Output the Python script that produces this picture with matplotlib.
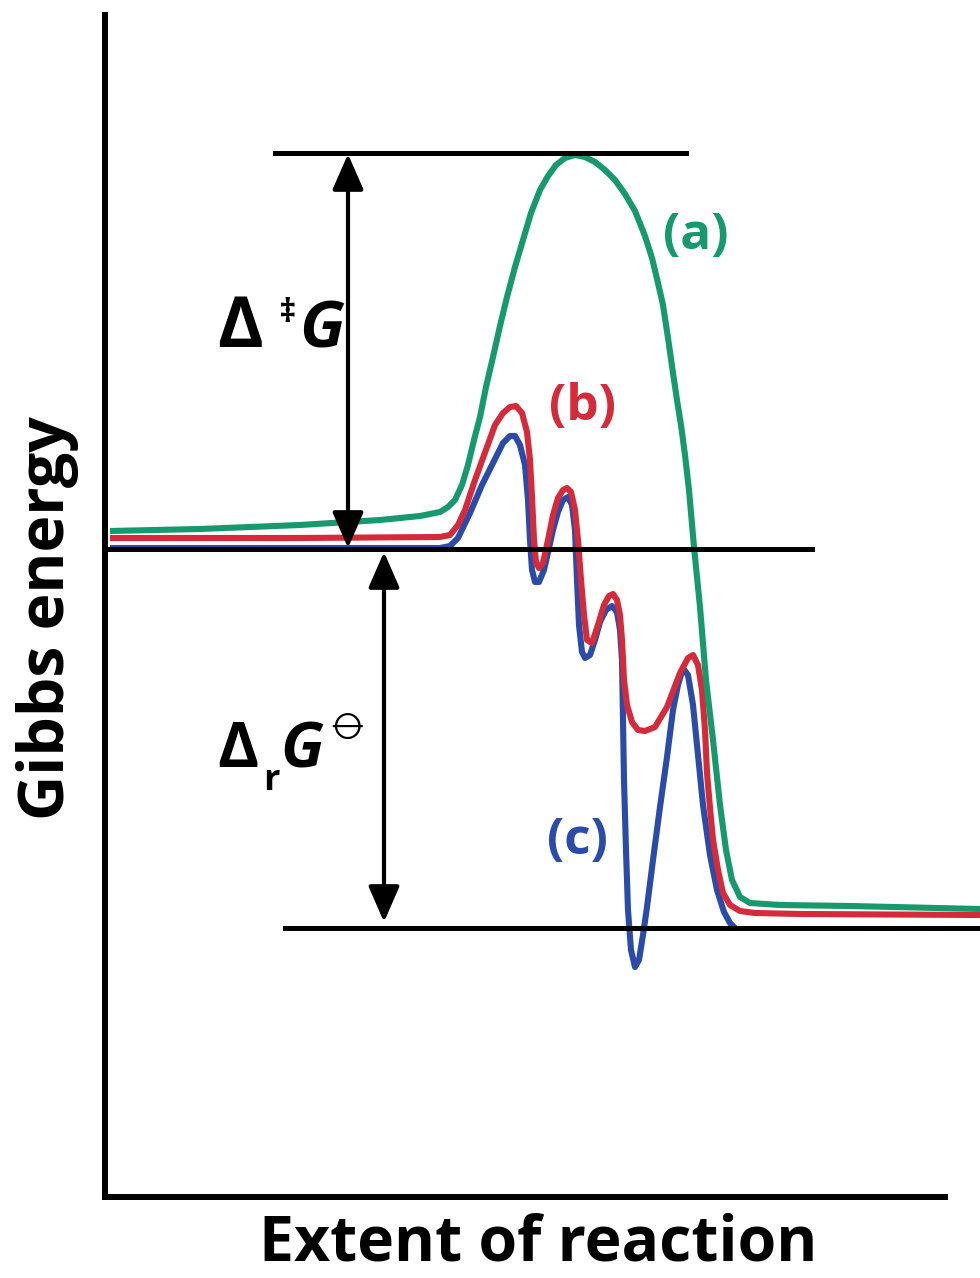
import sys
import matplotlib
matplotlib.use("Agg")
import matplotlib.pyplot as plt
from matplotlib import font_manager
from matplotlib.ft2font import FT2Font, LoadFlags
from matplotlib.patches import Ellipse
from matplotlib.lines import Line2D

W, H = 980, 1278
X0, Y0 = 105, 1197  # axis origin in pixels

green_px_x = [110, 200, 300, 380, 420, 440, 448, 455, 462, 468, 474, 480, 486, 493, 500, 507, 515, 523, 531,
              540, 548, 556, 565, 575, 585, 595, 605, 615, 625, 635, 645, 652, 658, 663, 668, 673, 677, 681,
              685, 689, 694, 700, 706, 713, 720, 726, 732, 740, 750, 780, 850, 980]
green_px_y = [531, 529, 525, 520, 516, 512, 507, 500, 485, 465, 440, 417, 387, 357, 326, 297, 267, 240, 213,
              190, 176, 165, 158, 155, 157, 162, 170, 180, 194, 211, 236, 258, 283, 305, 338, 373, 400, 425,
              455, 490, 547, 607, 680, 740, 805, 850, 880, 897, 903, 905, 906, 909]

red_px_x = [110, 300, 440, 450, 458, 465, 475, 487, 495, 503, 510, 516, 522, 527, 530, 532, 534, 536, 539, 543,
            548, 553, 558, 563, 567, 571, 575, 578, 581, 584, 587, 592, 598, 604, 609, 613, 617, 620, 622, 624,
            627, 632, 638, 645, 655, 667, 680, 688, 693, 698, 702, 705, 707, 710, 713, 718, 723, 730, 740, 755, 800, 980]
red_px_y = [538, 538, 537, 535, 525, 510, 480, 447, 425, 413, 407, 406, 413, 432, 460, 497, 540, 562, 568, 563,
            540, 515, 498, 490, 488, 492, 510, 540, 580, 615, 640, 643, 625, 605, 596, 594, 600, 615, 640, 680,
            705, 722, 730, 731, 727, 707, 673, 658, 655, 665, 690, 730, 773, 808, 840, 870, 893, 905, 911, 913, 914, 915]

blue_px_x = [110, 300, 440, 450, 458, 470, 482, 493, 503, 510, 515, 520, 525, 528, 530, 532, 535, 539, 544, 549,
             553, 558, 563, 568, 572, 575, 577, 579, 582, 585, 590, 595, 600, 606, 612, 617, 620, 622, 623, 624,
             626, 628, 631, 635, 639, 643, 647, 653, 660, 667, 673, 678, 683, 688, 693, 698, 703, 710, 717, 724,
             730, 735]
blue_px_y = [548, 548, 548, 546, 538, 513, 485, 463, 443, 436, 436, 445, 465, 500, 540, 570, 582, 582, 570, 548,
             530, 512, 500, 497, 505, 530, 580, 625, 652, 658, 655, 640, 622, 610, 606, 612, 630, 660, 720, 780,
             850, 910, 950, 967, 960, 935, 907, 860, 807, 757, 710, 685, 668, 675, 705, 755, 805, 855, 890, 912,
             923, 928]

# convert to chart units: extent (x) and Gibbs energy (y) relative to the axis origin
extent_a = [x - X0 for x in green_px_x]
energy_a = [Y0 - y for y in green_px_y]
extent_b = [x - X0 for x in red_px_x]
energy_b = [Y0 - y for y in red_px_y]
extent_c = [x - X0 for x in blue_px_x]
energy_c = [Y0 - y for y in blue_px_y]

# reference levels (energy)
level_ts = Y0 - 153
level_react = Y0 - 549
level_prod = Y0 - 928

GREEN = '#17996e'
RED = '#d52a3a'
BLUE = '#2b4ba8'

FONT = 'Open Sans'

fig = plt.figure(figsize=(W / 100, H / 100), dpi=100)
ax = fig.add_axes([X0 / W, (H - Y0) / H, (945 - X0) / W, (Y0 - 15) / H])
ax.set_xlim(0, 945 - X0)
ax.set_ylim(0, Y0 - 15)
for s in ['top', 'right']:
    ax.spines[s].set_visible(False)
for s in ['left', 'bottom']:
    ax.spines[s].set_linewidth(4.3)
    ax.spines[s].set_color('black')
    ax.spines[s].set_capstyle('projecting')
ax.set_xticks([])
ax.set_yticks([])

lw = 4.4
kw = dict(lw=lw, clip_on=False, solid_capstyle='butt', solid_joinstyle='round')
ax.plot(extent_c, energy_c, color=BLUE, zorder=2, **kw)
ax.plot(extent_b, energy_b, color=RED, zorder=3, **kw)
ax.plot(extent_a, energy_a, color=GREEN, zorder=4, **kw)

# horizontal reference lines
ax.plot([275 - X0, 686 - X0], [level_ts, level_ts], color='black', lw=3.6, clip_on=False, zorder=5)
ax.plot([0, 812 - X0], [level_react, level_react], color='black', lw=3.6, clip_on=False, zorder=5)
ax.plot([285 - X0, 980 - X0], [level_prod, level_prod], color='black', lw=3.6, clip_on=False, zorder=5)

# double-headed arrows
arrow_style = '<|-|>,head_length=1.1,head_width=0.48'
ax.annotate('', xy=(348 - X0, level_ts - 1), xytext=(348 - X0, level_react + 1),
            arrowprops=dict(arrowstyle=arrow_style, color='black', lw=3.0,
                            mutation_scale=20, shrinkA=0, shrinkB=0), zorder=6)
ax.annotate('', xy=(384 - X0, level_react - 3), xytext=(384 - X0, level_prod + 6),
            arrowprops=dict(arrowstyle=arrow_style, color='black', lw=3.0,
                            mutation_scale=20, shrinkA=0, shrinkB=0), zorder=6)

def ft(x, y, s, **kw):
    return fig.text(x / W, 1 - y / H, s, **kw)

# axis labels
ft(538, 1244, 'Extent of reaction', ha='center', va='center', fontsize=45,
   fontweight='bold', family=FONT)
ft(48, 618, 'Gibbs energy', ha='center', va='center', fontsize=45,
   fontweight='bold', family=FONT, rotation=90)

# curve labels
ft(696, 236, '(a)', ha='center', va='center', fontsize=37, fontweight='bold', color=GREEN, family=FONT)
ft(582, 407, '(b)', ha='center', va='center', fontsize=37, fontweight='bold', color=RED, family=FONT)
ft(577, 841, '(c)', ha='center', va='center', fontsize=37, fontweight='bold', color=BLUE, family=FONT)

# Δ‡G
ft(217, 347, 'Δ', ha='left', va='baseline', fontsize=50, fontweight='bold', family=[FONT, 'DejaVu Sans'])
ft(279, 322, '‡', ha='left', va='baseline', fontsize=24, fontweight='bold', family=[FONT, 'DejaVu Sans'])
ft(299, 347, 'G', ha='left', va='baseline', fontsize=47, fontweight='bold', style='italic', family=FONT)

# ΔrG⦵
ft(217, 767, 'Δ', ha='left', va='baseline', fontsize=45, fontweight='bold', family=[FONT, 'DejaVu Sans'])
ft(263, 790, 'r', ha='left', va='baseline', fontsize=26, fontweight='bold', family=FONT)
ft(280, 767, 'G', ha='left', va='baseline', fontsize=45, fontweight='bold', style='italic', family=FONT)

# standard-state symbol: use an installed font that really has the glyph, else draw it
PLIMSOLL = '\u29b5'
plim_entry = None
entries = sorted(font_manager.fontManager.ttflist,
                 key=lambda f: (0 if ('DejaVu' in f.name or 'STIX' in f.name or 'Noto' in f.name) else 1))
for f in entries:
    if f.name.lower().startswith('cm'):
        continue
    try:
        font = FT2Font(f.fname)
        if ord(PLIMSOLL) not in font.get_charmap():
            continue
        g = font.load_char(ord(PLIMSOLL), flags=LoadFlags.NO_HINTING)
        if g.width <= 0 or g.height <= 0:
            continue
        prop = font_manager.FontProperties(family=f.name, weight=f.weight, style=f.style)
        if font_manager.findfont(prop, fallback_to_default=False) != f.fname:
            continue
        plim_entry = f
        break
    except Exception:
        continue

if plim_entry is not None:
    ft(347, 735, PLIMSOLL, ha='center', va='baseline', fontsize=25,
       family=[plim_entry.name], weight=plim_entry.weight, style=plim_entry.style)
else:
    cx, cy = 347 / W, 1 - 727 / H
    fig.patches.append(Ellipse((cx, cy), 17 / W, 17 / H, transform=fig.transFigure,
                               fill=False, lw=2.6, ec='black'))
    fig.lines.append(Line2D([328 / W, 366 / W], [cy, cy], transform=fig.transFigure,
                            lw=2.6, color='black'))

fig.savefig('out.png', dpi=100)
